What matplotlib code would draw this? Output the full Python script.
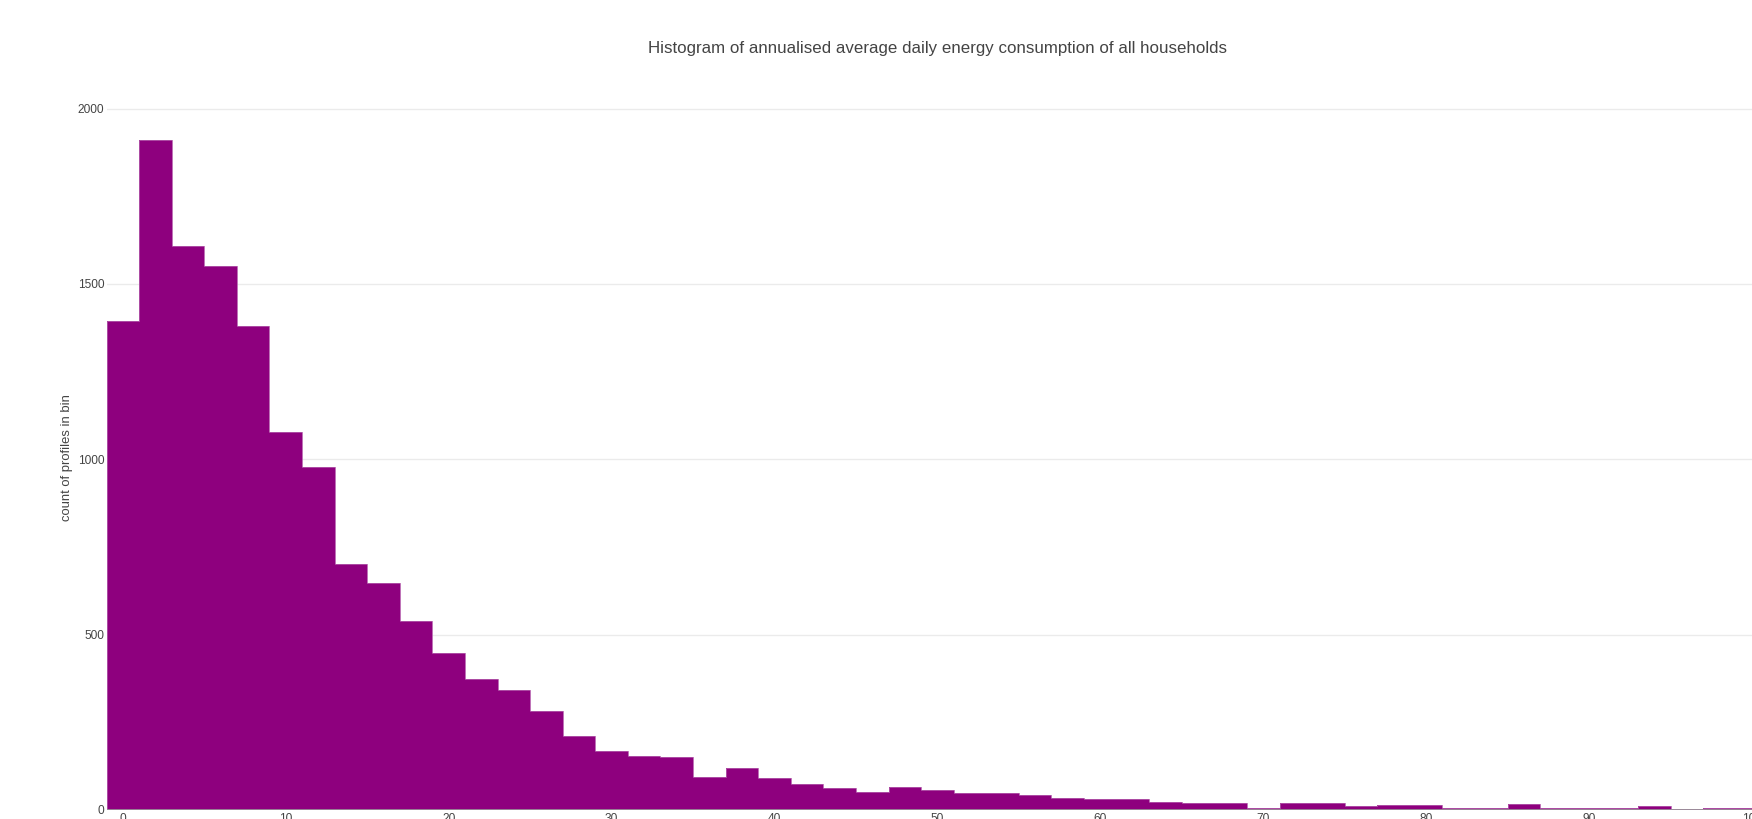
import numpy as np
import matplotlib.pyplot as plt

plt.rcParams['font.family'] = ['Liberation Sans', 'DejaVu Sans']

# histogram bins: width 2, starting at -1
bin_start = -1
bin_width = 2
counts = [1393, 1910, 1609, 1552, 1381, 1077, 977, 701, 646, 539,
          449, 373, 343, 281, 211, 168, 154, 151, 93, 119,
          90, 74, 62, 52, 65, 56, 49, 49, 43, 33,
          30, 30, 22, 19, 19, 7, 19, 19, 10, 13,
          13, 7, 7, 17, 7, 7, 7, 10, 4, 7, 7]
x_ticks = [0, 10, 20, 30, 40, 50, 60, 70, 80, 90, 100]
y_ticks = [0, 500, 1000, 1500, 2000]

title = "Histogram of annualised average daily energy consumption of all households"
y_label = "count of profiles in bin"

edges = bin_start + bin_width * np.arange(len(counts) + 1)

W, H = 1752, 819
fig = plt.figure(figsize=(W / 100, H / 100), dpi=100)
ax = fig.add_axes([106.5 / W, 9 / H, (W - 106.5) / W, 704.9 / H])

ax.bar(edges[:-1], counts, width=bin_width, align='edge',
       color='#8e007e', linewidth=0, zorder=2)
# thin lighter outline along the top of the bars
ax.stairs(counts, edges, color='#b35aab', linewidth=0.6, zorder=2.5)

ax.set_xlim(-1, 99.58)
ax.set_ylim(0, 2010)
ax.set_xticks(x_ticks)
ax.set_yticks(y_ticks)
ax.grid(axis='y', color='#ebebeb', linewidth=1, zorder=0)
ax.axhline(0, color='#999999', linewidth=1.2, zorder=3)

for s in ax.spines.values():
    s.set_visible(False)
ax.tick_params(axis='both', length=0, labelsize=8.6, labelcolor='#444444')
ax.tick_params(axis='y', pad=1.5)
ax.tick_params(axis='x', pad=2.5)

ax.set_ylabel(y_label, fontsize=9.4, color='#444444')
ax.yaxis.set_label_coords(-0.0204, 0.5)

fig.text(937.5 / W, 1 - 49 / H, title, ha='center', va='center',
         fontsize=12.2, color='#444444')

fig.savefig('out.png', dpi=100)
